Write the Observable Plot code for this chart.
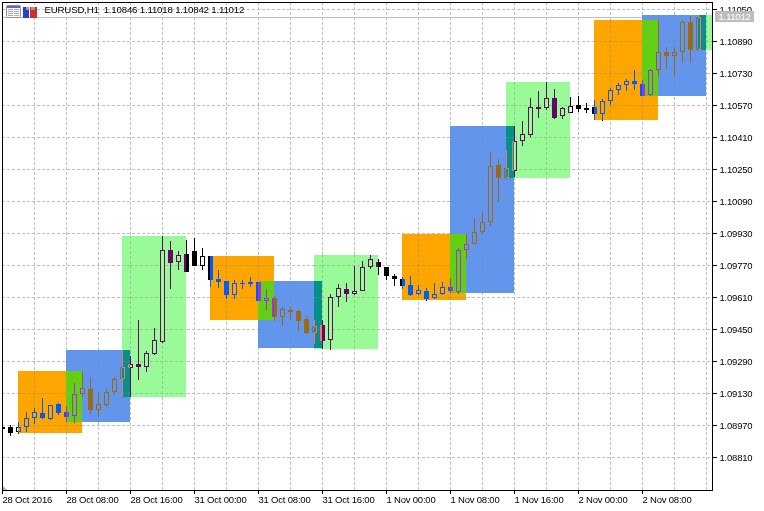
<!DOCTYPE html>
<html>
<head>
<meta charset="utf-8">
<script src="https://cdn.jsdelivr.net/npm/d3@7"></script>
<script src="https://cdn.jsdelivr.net/npm/@observablehq/plot@0.6"></script>
<style>
html,body{margin:0;padding:0;background:#fff;}
#wrap{position:relative;width:764px;height:511px;overflow:hidden;font-family:"Liberation Sans",sans-serif;}
#wrap svg{display:block;}
.tag{position:absolute;left:715px;top:11px;width:39px;height:11px;line-height:11px;background:#bdbdbd;color:#fff;font-size:9.5px;letter-spacing:-.2px;text-align:center;}
</style>
</head>
<body>
<div id="wrap"></div>
<script>
const symbol = "EURUSD,H1";
const open = [1.0896,1.0896,1.08935,1.0896,1.09005,1.0903,1.09,1.09075,1.09035,1.09015,1.09125,1.0915,1.09045,1.0907,1.09135,1.092,1.09255,1.09275,1.0926,1.09325,1.09385,1.09845,1.09785,1.09825,1.0984,1.09765,1.09815,1.097,1.0969,1.0962,1.0968,1.09685,1.09685,1.0959,1.09605,1.0951,1.09545,1.0954,1.095,1.0943,1.0947,1.09395,1.0961,1.0965,1.09625,1.0964,1.0976,1.09785,1.0976,1.09715,1.097,1.0967,1.09625,1.0964,1.09605,1.09625,1.0966,1.09635,1.09845,1.09875,1.09935,1.09985,1.1027,1.10205,1.1024,1.1039,1.1042,1.1056,1.10555,1.10605,1.10515,1.1053,1.1057,1.10555,1.1056,1.10525,1.1059,1.10645,1.1067,1.1069,1.10675,1.1062,1.10745,1.10835,1.10815,1.10835,1.10985,1.10846];
const high = [1.0896,1.0897,1.08985,1.09035,1.09055,1.09105,1.0907,1.0908,1.09065,1.0918,1.0924,1.0921,1.09135,1.0915,1.0921,1.09345,1.09315,1.09495,1.0934,1.09455,1.09915,1.0989,1.0984,1.09895,1.09905,1.09855,1.09815,1.09745,1.0969,1.09695,1.09695,1.0971,1.09685,1.0965,1.09615,1.0956,1.0956,1.09545,1.09515,1.09495,1.09495,1.09625,1.09675,1.0968,1.09765,1.0979,1.0982,1.098,1.0976,1.09725,1.0971,1.09715,1.0967,1.09655,1.0968,1.09685,1.09705,1.09855,1.09925,1.10005,1.10035,1.10335,1.103,1.10345,1.10465,1.1049,1.10605,1.1064,1.10685,1.1065,1.1056,1.1061,1.10615,1.1058,1.10595,1.106,1.10655,1.1068,1.107,1.10745,1.10695,1.1075,1.10995,1.1086,1.1086,1.10995,1.11015,1.11018];
const low = [1.08945,1.08915,1.08925,1.08935,1.08975,1.09,1.08995,1.0902,1.08985,1.0898,1.0911,1.09025,1.0901,1.0906,1.0912,1.09105,1.0911,1.09195,1.09235,1.0932,1.0938,1.0965,1.09745,1.09735,1.09765,1.09745,1.0966,1.09655,1.096,1.096,1.0965,1.0966,1.0959,1.09545,1.0949,1.09465,1.09495,1.0944,1.09425,1.09375,1.0935,1.09345,1.0956,1.09585,1.0962,1.0964,1.0975,1.0972,1.09695,1.09665,1.0965,1.09615,1.0962,1.0959,1.096,1.0962,1.0963,1.09625,1.098,1.09875,1.09925,1.09965,1.10085,1.10195,1.1021,1.10365,1.1041,1.10505,1.10545,1.105,1.105,1.1053,1.10535,1.1053,1.10495,1.1049,1.1057,1.1062,1.1064,1.10645,1.10615,1.10615,1.1071,1.1075,1.1071,1.1078,1.1078,1.10842];
const close = [1.0895,1.0893,1.0896,1.09005,1.09035,1.09005,1.0907,1.0903,1.0901,1.09125,1.09155,1.09045,1.09075,1.09135,1.092,1.0926,1.09275,1.0926,1.0933,1.09395,1.09845,1.0978,1.0982,1.09735,1.09765,1.09815,1.09695,1.09685,1.0962,1.0968,1.09675,1.09675,1.0959,1.09605,1.0951,1.0955,1.09535,1.0949,1.0943,1.09465,1.0939,1.0961,1.09655,1.09625,1.0964,1.0976,1.098,1.0976,1.09715,1.097,1.09665,1.0962,1.09645,1.096,1.09625,1.0966,1.0964,1.09845,1.09875,1.09935,1.09985,1.10265,1.10205,1.10255,1.1039,1.10425,1.1056,1.1055,1.10605,1.10505,1.10555,1.10565,1.1055,1.10545,1.10525,1.1059,1.10645,1.1067,1.1069,1.10675,1.10615,1.10745,1.10835,1.10815,1.10835,1.10985,1.10845,1.11012];

const boxKinds = ["orange","blue","green","orange","blue","green","orange","blue","green","orange","blue","green"];
const boxStart = [2,8,15,26,32,39,50,56,63,74,80,87];
const boxEnd   = [10,16,23,34,40,47,58,64,71,82,88,95];
const boxHigh  = [1.0924,1.09345,1.09915,1.09815,1.0969,1.0982,1.09925,1.10465,1.10685,1.10995,1.1102,1.1102];
const boxLow   = [1.0893,1.08985,1.0911,1.09495,1.09355,1.0935,1.09595,1.0963,1.10205,1.10495,1.10615,1.10845];

const priceTicks = [1.0881,1.0897,1.0913,1.0929,1.0945,1.0961,1.0977,1.0993,1.1009,1.1025,1.1041,1.1057,1.1073,1.1089,1.1105];
const timeTicks = [0,8,16,24,32,40,48,56,64,72,80];
const timeLabels = ["28 Oct 2016","28 Oct 08:00","28 Oct 16:00","31 Oct 00:00","31 Oct 08:00","31 Oct 16:00","1 Nov 00:00","1 Nov 08:00","1 Nov 16:00","2 Nov 00:00","2 Nov 08:00"];
const gridBars = d3.range(4, 89, 4);

const xDomain = [0, 88.75];
const yDomain = [1.08645, 1.11085];

// Colours of each box, and what must be subtracted to get them on a white page
const paint = {
  orange: {inv:"#005aff", grid:"#c0f4c0"},
  blue:   {inv:"#9b6a12", grid:"#f6ffe4"},
  green:  {inv:"#670467", grid:"#ffc8ff"},
  lime:   {inv:"#9b30ed", grid:"#f6ffc0"},
  teal:   {inv:"#fc6e75", grid:"#c0ffff"}
};
const mixOf = {"orange+blue":"lime","blue+green":"teal"};

const boxes = boxKinds.map((kind,i)=>({kind,x1:boxStart[i],x2:Math.min(boxEnd[i],xDomain[1]),top:boxHigh[i],bottom:boxLow[i]}));
function overlap(a,b){
  const x1=Math.max(a.x1,b.x1),x2=Math.min(a.x2,b.x2),top=Math.min(a.top,b.top),bottom=Math.max(a.bottom,b.bottom);
  return (x1<x2&&bottom<top)?{x1,x2,top,bottom}:null;
}
function subtract(a,hole){
  const h=overlap(a,hole);
  if(!h) return [a];
  const out=[];
  if(h.x1>a.x1) out.push({...a,x2:h.x1});
  if(h.x2<a.x2) out.push({...a,x1:h.x2});
  if(h.top<a.top) out.push({...a,x1:h.x1,x2:h.x2,bottom:h.top});
  if(h.bottom>a.bottom) out.push({...a,x1:h.x1,x2:h.x2,top:h.bottom});
  return out;
}
let pieces=[];
boxes.forEach((a,i)=>{
  let parts=[a];
  [boxes[i-1],boxes[i+1]].forEach(b=>{
    if(!b) return;
    const h=overlap(a,b);
    if(h) parts=parts.flatMap(p=>subtract(p,h));
  });
  pieces.push(...parts);
  const nx=boxes[i+1], h=nx&&overlap(a,nx);
  if(h) pieces.push({...h,kind:mixOf[a.kind+"+"+nx.kind]});
});
const gridH=[],gridV=[];
pieces.forEach(p=>{
  priceTicks.forEach(t=>{ if(t<=p.top&&t>p.bottom) gridH.push({x1:p.x1,x2:p.x2,y:t,kind:p.kind}); });
  gridBars.forEach(b=>{ if(b>=p.x1&&b<p.x2) gridV.push({x:b,y1:p.top,y2:p.bottom,kind:p.kind}); });
});

const bars = d3.range(open.length);
const isUp = i => close[i]>open[i] && i!==30;
const ups = bars.filter(isUp), downs = bars.filter(i=>!isUp(i));

const last = open.length-1;
const header = symbol+"\u00a0\u00a0"+[open[last],high[last],low[last],close[last]].map(v=>v.toFixed(5)).join(" ");

const dash = {strokeDasharray:"3,2",strokeOpacity:1};
const chart = Plot.plot({
  width:764,height:511,
  marginLeft:2,marginRight:52,marginTop:2,marginBottom:21,
  x:{domain:xDomain,axis:null},
  y:{domain:yDomain,round:true,axis:null},
  color:{type:"identity"},
  style:{background:"#fff",fontFamily:"'Liberation Sans',sans-serif",fontSize:"9.5px",color:"#000",letterSpacing:"-0.2px",overflow:"visible"},
  marks:[
    Plot.gridY(priceTicks,{stroke:"#c0c0c0",...dash}),
    Plot.gridX(gridBars,{stroke:"#c0c0c0",...dash}),
    Plot.ruleY([close[last]],{stroke:"#c0c0c0"}),
    Plot.rect(pieces,{x1:"x1",x2:"x2",y1:"top",y2:"bottom",fill:"#fff"}),
    Plot.ruleY(gridH,{x1:"x1",x2:"x2",y:"y",stroke:d=>paint[d.kind].grid,...dash}),
    Plot.ruleX(gridV,{x:"x",y1:"y1",y2:"y2",stroke:d=>paint[d.kind].grid,...dash}),
    Plot.ruleX(bars,{x:i=>i,y1:i=>low[i],y2:i=>high[i],stroke:"#000",clip:true}),
    Plot.rect(downs,{x1:i=>i-0.25,x2:i=>i+0.375,y1:i=>open[i],y2:i=>close[i],fill:"#000",clip:true}),
    Plot.rect(ups,{x1:i=>i-0.25,x2:i=>i+0.375,y1:i=>open[i],y2:i=>close[i],fill:"#fff",stroke:"#000",inset:0.5,clip:true}),
    Plot.rect(pieces,{x1:"x1",x2:"x2",y1:"top",y2:"bottom",fill:d=>paint[d.kind].inv,mixBlendMode:"difference"}),
    Plot.frame({stroke:"#000"}),
    Plot.axisY(priceTicks,{anchor:"right",tickSize:4,tickPadding:3,tickFormat:d=>d.toFixed(5),label:null,fill:"#000",stroke:"#000"}),
    Plot.axisX(timeTicks,{anchor:"bottom",tickSize:4,tickPadding:2,textAnchor:"start",tickFormat:d=>timeLabels[timeTicks.indexOf(d)],label:null,fill:"#000",stroke:"#000"}),
    Plot.text([header],{frameAnchor:"top-left",dx:42,dy:4,text:d=>d,textAnchor:"start",lineAnchor:"top",fontSize:9.7,fill:"#000"})
  ]
});
const wrap=document.getElementById("wrap");
wrap.appendChild(chart);

const tag=document.createElement("div");
tag.className="tag";
tag.textContent=close[last].toFixed(5);
wrap.appendChild(tag);

const deco=document.createElementNS("http://www.w3.org/2000/svg","svg");
deco.setAttribute("width",764);deco.setAttribute("height",511);
deco.setAttribute("style","position:absolute;left:0;top:0;pointer-events:none;");
deco.innerHTML=`
<rect x="6.5" y="5.5" width="14" height="12" rx="1" fill="#fff" stroke="#8a8ab8"/>
<rect x="7" y="6" width="13" height="2" fill="#6a6ab0"/>
<g fill="#f0907a"><rect x="8" y="9" width="5" height="1"/><rect x="8" y="11" width="5" height="1"/><rect x="8" y="13" width="5" height="1"/><rect x="8" y="15" width="5" height="1"/></g>
<g fill="#8fb0f0"><rect x="14" y="9" width="5" height="1"/><rect x="14" y="11" width="5" height="1"/><rect x="14" y="13" width="5" height="1"/><rect x="14" y="15" width="5" height="1"/></g>
<path d="M23 7h3v3h3v8h-6z" fill="#2a3fd0"/>
<path d="M30 7h1v3h4v-3h2v11h-7z" fill="#c8322a"/>
<path d="M31 7h4v3h-4zM26 7h3v3h-3z" fill="#9a9aa0"/>
<path d="M3 486l4 4h-4z" fill="#b0b0b0"/>`;
wrap.appendChild(deco);
</script>
</body>
</html>
